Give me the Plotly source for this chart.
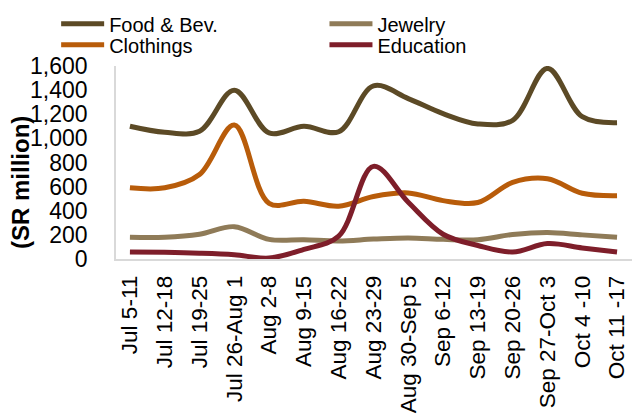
import plotly.graph_objects as go

weeks = ["Jul 5-11", "Jul 12-18", "Jul 19-25", "Jul 26-Aug 1", "Aug 2-8", "Aug 9-15",
         "Aug 16-22", "Aug 23-29", "Aug 30-Sep 5", "Sep 6-12", "Sep 13-19", "Sep 20-26",
         "Sep 27-Oct 3", "Oct 4 -10", "Oct 11 -17"]
food_bev = [1100, 1050, 1060, 1400, 1045, 1100, 1055, 1435, 1330, 1205, 1120, 1150, 1580, 1180, 1130]
clothings = [590, 590, 700, 1110, 462, 478, 438, 518, 548, 484, 468, 635, 665, 545, 525]
jewelry = [180, 180, 205, 268, 163, 160, 150, 165, 175, 163, 160, 203, 220, 200, 180]
education = [58, 55, 48, 35, 8, 80, 190, 768, 470, 205, 112, 58, 128, 92, 58]

colors = {"Food & Bev.": "#5C4A26", "Clothings": "#B85C0A", "Jewelry": "#8F7B58", "Education": "#7E1E2A"}

fig = go.Figure()
series = [("Food & Bev.", food_bev, "legend"), ("Clothings", clothings, "legend3"),
          ("Jewelry", jewelry, "legend2"), ("Education", education, "legend4")]
for name, vals, lg in series:
    fig.add_trace(go.Scatter(x=weeks, y=vals, name=name, mode="lines",
                             line=dict(color=colors[name], width=5, shape="spline", smoothing=1.0),
                             legend=lg))

font = "Liberation Sans, Arial, sans-serif"
row1 = 1.32
row2 = row1 - 21 / 193
col1 = -0.116
col2 = 0.404
def lg(x, y):
    return dict(x=x, y=y, xanchor="left", yanchor="top", orientation="v",
                font=dict(size=20), itemwidth=43, bgcolor="rgba(0,0,0,0)")

fig.update_layout(
    width=632, height=419,
    margin=dict(l=116, r=0, t=66, b=160, autoexpand=False),
    plot_bgcolor="white", paper_bgcolor="white",
    font=dict(family=font, size=22, color="black"),
    legend=lg(col1, row1), legend2=lg(col2, row1),
    legend3=lg(col1, row2), legend4=lg(col2, row2),
    showlegend=True,
)
fig.update_xaxes(type="category", range=[-0.4, 14.43], tickangle=-90, showline=True,
                 linecolor="#d9d9d9", linewidth=1.5, showgrid=False, ticks="",
                 ticklabelstandoff=6, tickfont=dict(size=22.5), automargin=False)
fig.update_yaxes(range=[0, 1600], tickvals=[0, 200, 400, 600, 800, 1000, 1200, 1400, 1600],
                 tickformat=",", showline=True, linecolor="#d9d9d9", linewidth=1.5,
                 showgrid=False, zeroline=False, ticks="", ticklabelstandoff=22,
                 tickfont=dict(size=23), automargin=False)
fig.add_annotation(text="<b>(SR million)</b>", textangle=-90, xref="paper", yref="paper",
                   x=(20 - 116) / 516, y=(259 - 183) / 193, xanchor="center", yanchor="middle",
                   showarrow=False, font=dict(size=24, family=font, color="black"))

fig.write_html("out.html")
